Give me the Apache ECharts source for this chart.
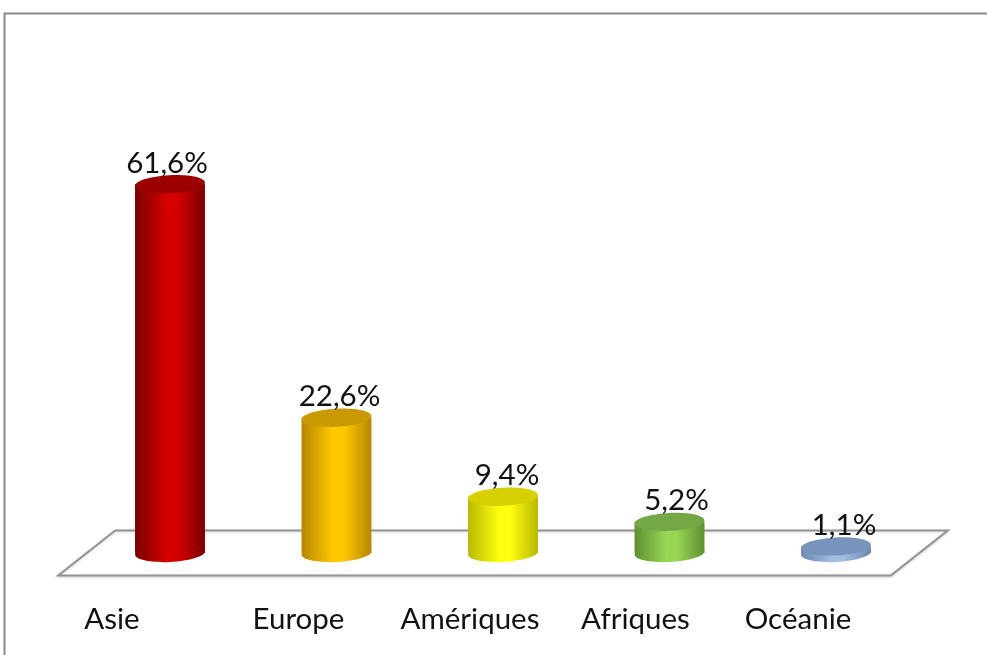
<!DOCTYPE html>
<html>
<head>
<meta charset="utf-8">
<script src="https://cdn.jsdelivr.net/npm/echarts@6/dist/echarts.min.js"></script>
<style>html,body{margin:0;padding:0;background:#fff}#c{width:987px;height:655px}</style>
</head>
<body>
<div id="c"></div>
<script>
const categories = ['Asie', 'Europe', 'Amériques', 'Afriques', 'Océanie'];
const values = [61.6, 22.6, 9.4, 5.2, 1.1];

// styles
const palette = [
  { edge: '#7a0000', mid: '#d60000', top: '#9c0000' },
  { edge: '#b78600', mid: '#ffc800', top: '#c99a00' },
  { edge: '#b8b800', mid: '#ffff10', top: '#d6d000' },
  { edge: '#5f8f32', mid: '#98d655', top: '#74a844' },
  { edge: '#6c88b0', mid: '#a2bee2', top: '#7894bc' }
];
const labelShift = [58, 38, 33, 34, 38];
const valueLabelShift = [-3, 3, 4, 7, 8];
const FONT = 'Lato, "Liberation Sans", sans-serif';
const FS = 29.5;

const chart = echarts.init(document.getElementById('c'));

function grad(c) {
  return new echarts.graphic.LinearGradient(0, 0, 1, 0, [
    { offset: 0, color: c.edge },
    { offset: 0.45, color: c.mid },
    { offset: 0.6, color: c.mid },
    { offset: 1, color: c.edge }
  ]);
}

chart.setOption({
  animation: false,
  graphic: [{
    type: 'rect', z: -10,
    shape: { x: 4.5, y: 13.5, width: 1000, height: 700 },
    style: { fill: '#fff', stroke: '#8a8a8a', lineWidth: 2 }
  }],
  grid: { left: 86.75, width: 832.5, top: 134, bottom: 102 },
  xAxis: {
    type: 'category',
    data: categories.map((c, i) => ({ value: c, textStyle: { padding: [0, labelShift[i] * 2, 0, 0] } })),
    axisLine: { show: false },
    axisTick: { show: false },
    axisLabel: { interval: 0, hideOverlap: false, margin: 51, fontSize: FS, color: '#111', fontFamily: FONT }
  },
  yAxis: { type: 'value', min: 0, max: 70, show: false, splitLine: { show: false } },
  series: [
    {
      type: 'custom', z: 1,
      data: [0],
      renderItem: function (params, api) {
        const cs = params.coordSys;
        const y0 = cs.y + cs.height;
        const dx = 28.5, dy = 22.5;
        return {
          type: 'polygon',
          shape: { points: [
            [cs.x + dx, y0 - dy], [cs.x + cs.width + dx, y0 - dy],
            [cs.x + cs.width - dx, y0 + dy], [cs.x - dx, y0 + dy]
          ] },
          style: { fill: '#fff', stroke: '#939393', lineWidth: 2, shadowColor: 'rgba(0,0,0,0.15)', shadowBlur: 3, shadowOffsetY: 1 }
        };
      }
    },
    {
      type: 'custom', z: 2,
      data: values.map((v, i) => [i, v]),
      renderItem: function (params, api) {
        const i = api.value(0);
        const v = api.value(1);
        const base = api.coord([i, 0]);
        const top = api.coord([i, v]);
        const w = api.size([1, 0])[0] * 0.42;
        const rx = w / 2, ry = 9;
        const cx = base[0];
        const c = palette[i];
        const g = grad(c);
        const rot = 0.05;
        return {
          type: 'group',
          children: [
            { type: 'ellipse', shape: { cx: cx, cy: base[1], rx: rx, ry: ry }, rotation: rot, originX: cx, originY: base[1], style: { fill: g } },
            { type: 'rect', shape: { x: cx - rx, y: top[1], width: w, height: base[1] - top[1] }, style: { fill: g } },
            { type: 'ellipse', shape: { cx: cx, cy: top[1], rx: rx, ry: ry }, rotation: rot, originX: cx, originY: top[1], style: { fill: c.top } },
            { type: 'text', x: cx + valueLabelShift[i], y: top[1] - 21,
              style: { text: v.toFixed(1).replace('.', ',') + '%', fill: '#111', font: FS + 'px ' + FONT, align: 'center', verticalAlign: 'middle' } }
          ]
        };
      }
    }
  ]
});
</script>
</body>
</html>
